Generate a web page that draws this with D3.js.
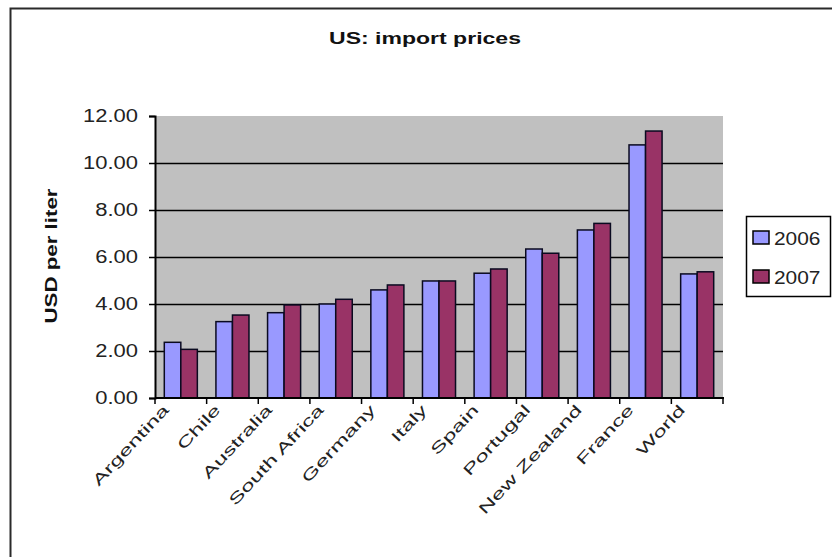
<!DOCTYPE html>
<html>
<head>
<meta charset="utf-8">
<script src="https://cdn.jsdelivr.net/npm/d3@7/dist/d3.min.js"></script>
<style>
  body { margin: 0; background: #fff; }
  svg { display: block; font-family: "Liberation Sans", Arial, sans-serif; }
</style>
</head>
<body>
<svg id="chart" width="832" height="557"></svg>
<script>
// data
var categories = ["Argentina", "Chile", "Australia", "South Africa", "Germany", "Italy",
	"Spain", "Portugal", "New Zealand", "France", "World"];
var series = ["2006", "2007"];
var values2006 = [2.37, 3.25, 3.63, 4.00, 4.60, 4.98, 5.31, 6.34, 7.15, 10.77, 5.28];
var values2007 = [2.07, 3.53, 3.96, 4.20, 4.81, 4.98, 5.49, 6.16, 7.43, 11.36, 5.37];
var yTicks = [0, 2, 4, 6, 8, 10, 12];
var colors = ["#9999ff", "#993366"];

var svg = d3.select("#chart");

// stretch text along its run, the original screenshot has wider lettering than the fonts
var stretch = function(selection, factor) {
	selection.each(function() {
		var len = this.getComputedTextLength();
		d3.select(this).attr("textLength", len * factor).attr("lengthAdjust", "spacingAndGlyphs");
	});
};

var plot = {left: 155, right: 723, top: 116, bottom: 398};

// outer chart border (runs off the right and bottom)
svg.append("rect")
	.attr("x", 10.5).attr("y", 8.5)
	.attr("width", 900).attr("height", 600)
	.attr("fill", "#fff")
	.attr("stroke", "#2a2a2a")
	.attr("stroke-width", 2);

var x0 = d3.scaleBand()
	.domain(categories)
	.range([plot.left, plot.right])
	.paddingInner(0.36)
	.paddingOuter(0.18);

var x1 = d3.scaleBand()
	.domain(series)
	.range([0, x0.bandwidth()]);

var y = d3.scaleLinear()
	.domain([0, 12])
	.range([plot.bottom, plot.top]);

// plot area
svg.append("rect")
	.attr("x", plot.left).attr("y", plot.top)
	.attr("width", plot.right - plot.left).attr("height", plot.bottom - plot.top)
	.attr("fill", "#c0c0c0");

// gridlines (none drawn at the top)
svg.append("g").selectAll("line")
	.data(yTicks.filter(function(d) { return d > 0 && d < 12; }))
	.enter().append("line")
	.attr("x1", plot.left).attr("x2", plot.right)
	.attr("y1", function(d) { return Math.round(y(d)) + 0.5; })
	.attr("y2", function(d) { return Math.round(y(d)) + 0.5; })
	.attr("stroke", "#000")
	.attr("stroke-width", 1.5);

// bars
var rows = categories.map(function(c, i) {
	return {category: c, values: [values2006[i], values2007[i]]};
});

var groups = svg.append("g").selectAll("g")
	.data(rows)
	.enter().append("g")
	.attr("transform", function(d) { return "translate(" + x0(d.category) + ",0)"; });

groups.selectAll("rect")
	.data(function(d) { return d.values.map(function(v, i) { return {key: series[i], value: v, i: i}; }); })
	.enter().append("rect")
	.attr("x", function(d) { return x1(d.key); })
	.attr("y", function(d) { return y(d.value); })
	.attr("width", x1.bandwidth())
	.attr("height", function(d) { return plot.bottom - y(d.value); })
	.attr("fill", function(d) { return colors[d.i]; })
	.attr("stroke", "#0a0a20")
	.attr("stroke-width", 1.5);

// y axis
var yAxis = svg.append("g")
	.attr("transform", "translate(" + plot.left + ",0)")
	.call(d3.axisLeft(y).tickValues(yTicks).tickFormat(d3.format(".2f")).tickSize(6).tickPadding(11));
yAxis.select(".domain").attr("stroke", "#000").attr("stroke-width", 2);
yAxis.selectAll(".tick line").attr("stroke", "#000").attr("stroke-width", 1.5);
yAxis.selectAll("text")
	.attr("font-size", 18)
	.attr("fill", "#222")
	.call(stretch, 1.22);

// x axis, ticks at category boundaries
var bounds = d3.range(categories.length + 1).map(function(i) { return plot.left + i * x0.step(); });
svg.append("line")
	.attr("x1", plot.left).attr("x2", plot.right + 1)
	.attr("y1", plot.bottom).attr("y2", plot.bottom)
	.attr("stroke", "#000").attr("stroke-width", 2);
svg.append("g").selectAll("line")
	.data(bounds)
	.enter().append("line")
	.attr("x1", function(d) { return d; }).attr("x2", function(d) { return d; })
	.attr("y1", plot.bottom).attr("y2", plot.bottom + 6)
	.attr("stroke", "#000").attr("stroke-width", 1.5);

svg.append("g").selectAll("text")
	.data(categories)
	.enter().append("text")
	.attr("transform", function(d) {
		return "translate(" + (x0(d) + x0.bandwidth() / 2 - 15) + "," + (plot.bottom + 9) + ") rotate(-47)";
	})
	.attr("text-anchor", "end")
	.attr("dy", "0.35em")
	.attr("font-size", 15)
	.attr("fill", "#222")
	.text(function(d) { return d; })
	.call(stretch, 1.62);

// title
svg.append("text")
	.attr("x", 425).attr("y", 44)
	.attr("text-anchor", "middle")
	.attr("font-size", 17)
	.attr("font-weight", "bold")
	.attr("fill", "#111")
	.attr("textLength", 192)
	.attr("lengthAdjust", "spacingAndGlyphs")
	.text("US: import prices");

// y axis title
svg.append("text")
	.attr("transform", "translate(57,256) rotate(-90)")
	.attr("text-anchor", "middle")
	.attr("font-size", 16)
	.attr("font-weight", "bold")
	.attr("fill", "#111")
	.attr("textLength", 135)
	.attr("lengthAdjust", "spacingAndGlyphs")
	.text("USD per liter");

// legend
var legend = svg.append("g");
legend.append("rect")
	.attr("x", 746.5).attr("y", 216.5)
	.attr("width", 84).attr("height", 80)
	.attr("fill", "#fff")
	.attr("stroke", "#000")
	.attr("stroke-width", 1.5);

var items = legend.selectAll("g")
	.data(series)
	.enter().append("g")
	.attr("transform", function(d, i) { return "translate(753," + (231 + i * 39) + ")"; });
items.append("rect")
	.attr("width", 16).attr("height", 13)
	.attr("fill", function(d, i) { return colors[i]; })
	.attr("stroke", "#000")
	.attr("stroke-width", 1.5);
items.append("text")
	.attr("x", 21).attr("y", 14)
	.attr("font-size", 19)
	.attr("fill", "#222")
	.text(function(d) { return d; })
	.call(stretch, 1.1);
</script>
</body>
</html>
